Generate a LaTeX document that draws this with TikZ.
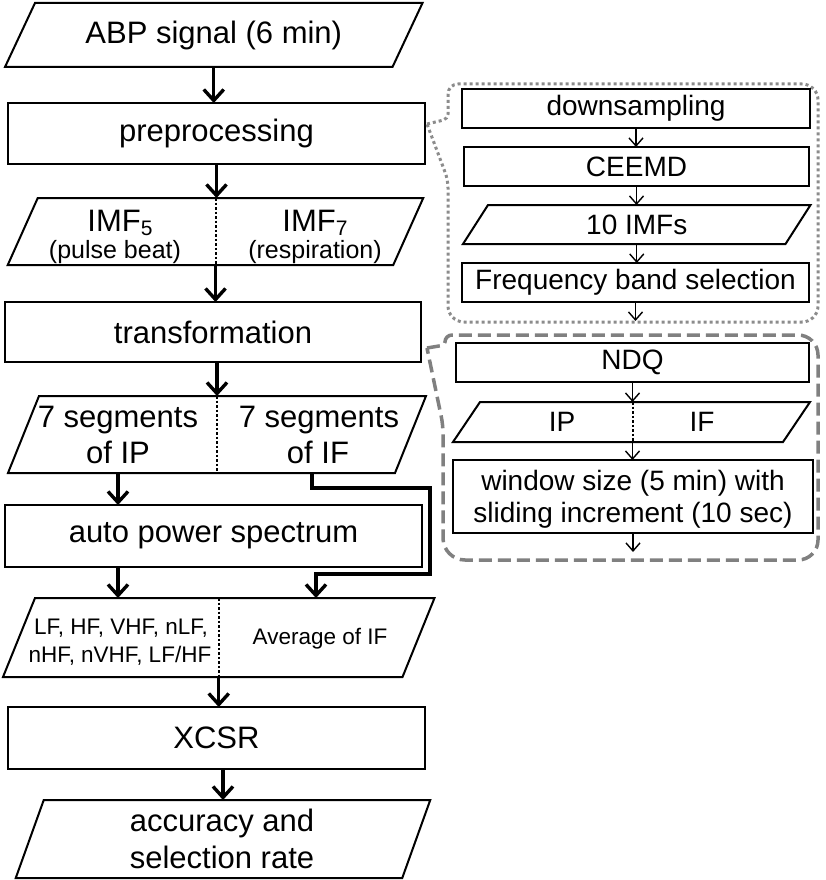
\documentclass[tikz,border=0pt]{standalone}
\usepackage{fontspec}
\setmainfont{Liberation Sans}
\usetikzlibrary{arrows.meta,calc}
\definecolor{dotgray}{RGB}{140,140,140}
\definecolor{dashgray}{RGB}{128,128,128}
\newcommand{\paral}[2]{\draw[pline] ([xshift=#2pt]#1.north west) -- ([xshift=#2pt]#1.north east) -- ([xshift=-#2pt]#1.south east) -- ([xshift=-#2pt]#1.south west) -- cycle;}
\begin{document}
\begin{tikzpicture}[x=1pt,y=-1pt,
  big/.style={font=\fontsize{31}{36}\selectfont},
  mid/.style={font=\fontsize{28}{32}\selectfont},
  sub/.style={font=\fontsize{25}{30}\selectfont},
  small/.style={font=\fontsize{22.5}{28}\selectfont},
  plain/.style={inner sep=0pt, outer sep=0pt},
  rbox/.style={plain, draw, line width=2pt},
  pline/.style={line width=2pt, line join=miter},
  lbl/.style={inner sep=0pt, anchor=base},
  arr/.style={line width=3.4pt, -{Straight Barb[length=11pt,width=20pt]}},
  tarr/.style={line width=1.4pt, -{Straight Barb[length=8pt,width=14pt]}},
  divline/.style={line width=2pt, dash pattern=on 2.5pt off 2pt},
  dotbox/.style={draw=dotgray, line width=3pt, dash pattern=on 3pt off 3pt},
  dashbox/.style={draw=dashgray, line width=3.5pt, dash pattern=on 13pt off 6pt}
]
\useasboundingbox (0,0) rectangle (826,880);

% ---------------- main column ----------------
\node[plain,big,minimum width=387.5pt,minimum height=64pt] (abp) at (213.75,35) {ABP signal (6 min)};
\paral{abp}{15}

\node[rbox,big,minimum width=417pt,minimum height=61pt] (pre) at (216.5,133.5) {preprocessing};

\node[plain,minimum width=385.5pt,minimum height=67pt] (imf) at (215.5,231.5) {};
\paral{imf}{15}
\draw[divline] (imf.north) -- (imf.south);
\node[lbl,big] (imf5) at (120,231) {IMF\raisebox{-4pt}{\fontsize{21}{21}\selectfont 5}};
\node[lbl,sub] (pulse) at (115,258) {(pulse beat)};
\node[lbl,big] (imf7) at (315,231) {IMF\raisebox{-4pt}{\fontsize{21}{21}\selectfont 7}};
\node[lbl,sub] (resp) at (315,258) {(respiration)};

\node[rbox,big,minimum width=416pt,minimum height=60pt] (trans) at (213,332) {transformation};

\node[plain,minimum width=387pt,minimum height=77pt] (seg) at (217,434.5) {};
\paral{seg}{15.5}
\draw[divline] (seg.north) -- (seg.south);
\node[lbl,big] (segL1) at (118,427) {7 segments};
\node[lbl,big] (segL2) at (118,463) {of IP};
\node[lbl,big] (segR1) at (319,427) {7 segments};
\node[lbl,big] (segR2) at (318,463) {of IF};

\node[rbox,big,minimum width=417pt,minimum height=62pt] (aps) at (213.5,536) {auto power spectrum};

\node[plain,minimum width=399.5pt,minimum height=79pt] (feat) at (218.75,637.5) {};
\paral{feat}{16}
\draw[divline] (feat.north) -- (feat.south);
\node[lbl,small] (featL1) at (121,634) {LF, HF, VHF, nLF,};
\node[lbl,small] (featL2) at (120,662) {nHF, nVHF, LF/HF};
\node[lbl,small] (featR) at (320,644) {Average of IF};

\node[rbox,big,minimum width=417pt,minimum height=62pt] (xcsr) at (216.5,738) {XCSR};

\node[plain,minimum width=386.5pt,minimum height=78pt] (acc) at (223,839) {};
\paral{acc}{14}
\node[lbl,big] (acc1) at (222,831) {accuracy and};
\node[lbl,big] (acc2) at (222,868) {selection rate};

% main arrows
\draw[arr] (abp.south) -- (abp.south |- pre.north);
\draw[arr] (pre.south) -- (pre.south |- imf.north);
\draw[arr] (imf.south) -- (imf.south |- trans.north);
\draw[arr] (seg.north |- trans.south) -- (seg.north);
\draw[arr] (segL1 |- seg.south) -- (segL1 |- aps.north);
\draw[arr] (segL1 |- aps.south) -- (segL1 |- feat.north);
\coordinate (r1) at (430,488);
\coordinate (r2) at (430,574);
\draw[arr, line join=miter] ([xshift=95pt]seg.south) |- (r1) -- (r2) -| ([xshift=97.25pt]feat.north);
\draw[arr] (feat.south) -- (feat.south |- xcsr.north);
\draw[arr] (acc.north |- xcsr.south) -- (acc.north);

% ---------------- right side: preprocessing detail ----------------
\draw[dotbox] (427,124) [rounded corners=5pt] -- (448,119) [rounded corners=10pt] -- (448,84) [rounded corners=16pt] -- (818,84) -- (818,322) -- (448,322) [rounded corners=8pt] -- (448,180) -- (427,124);

\node[rbox,mid,minimum width=348pt,minimum height=39pt] (down) at (636,108.5) {downsampling};
\node[rbox,mid,minimum width=345pt,minimum height=39pt] (ceemd) at (636.5,166.5) {CEEMD};
\node[plain,mid,minimum width=322.5pt,minimum height=39pt] (imfs) at (636.75,224.5) {10 IMFs};
\paral{imfs}{12.5}
\node[rbox,mid,minimum width=347pt,minimum height=39pt] (fbs) at (635.5,282.5) {Frequency band selection};
\coordinate (dotend) at (637,321);

\draw[tarr] (down.south) -- (down.south |- ceemd.north);
\draw[tarr] (ceemd.south) -- (ceemd.south |- imfs.north);
\draw[tarr] (imfs.south) -- (imfs.south |- fbs.north);
\draw[tarr] (fbs.south) -- (fbs.south |- dotend);

% ---------------- right side: transformation detail ----------------
\draw[dashbox] (427,348) [rounded corners=3pt] -- (445,345) [rounded corners=7pt] -- (445,335) [rounded corners=20pt] -- (818,335) -- (818,560) [rounded corners=22pt] -- (443,560) [rounded corners=8pt] -- (443,425) -- (427,348);

\node[rbox,mid,minimum width=353pt,minimum height=39pt] (ndq) at (632.5,362.5) {NDQ};
\node[plain,minimum width=330pt,minimum height=40pt] (ipif) at (631.5,422) {};
\paral{ipif}{13.5}
\node[mid,inner sep=0pt] (ip) at (562,422) {IP};
\node[mid,inner sep=0pt] (if) at (702,422) {IF};
\node[rbox,minimum width=360pt,minimum height=73pt] (win) at (633,496.5) {};
\node[lbl,mid] (win1) at (633,490) {window size (5 min) with};
\node[lbl,mid] (win2) at (633,522) {sliding increment (10 sec)};
\coordinate (dashend) at (633,552);

\draw[tarr] (ndq.south) -- (ndq.south |- ipif.north);
\draw[divline] (ndq.south |- ipif.north) -- (ndq.south |- ipif.south);
\draw[tarr] (ndq.south |- ipif.south) -- (ndq.south |- win.north);
\draw[tarr] (win.south) -- (win.south |- dashend);
\end{tikzpicture}
\end{document}
